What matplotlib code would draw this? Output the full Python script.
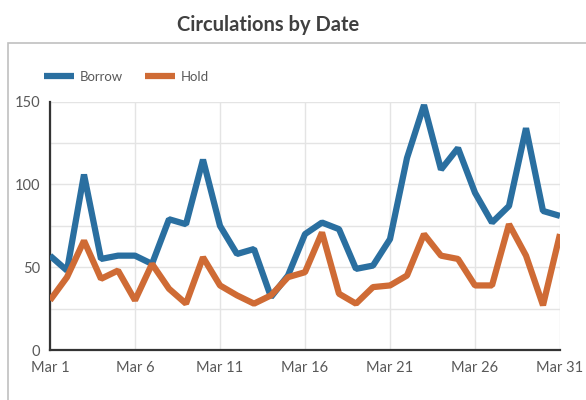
import numpy as np
import matplotlib.pyplot as plt
from matplotlib.patches import Rectangle
from matplotlib.ticker import MultipleLocator

plt.rcParams['font.family'] = ['Lato', 'DejaVu Sans']

days = list(range(1, 32))
borrow = [57, 48, 106, 55, 57, 57, 52, 79, 76, 115, 75, 58, 61, 32, 45, 70,
          77, 73, 49, 51, 67, 116, 148, 109, 122, 95, 77, 87, 134, 84, 81]
hold = [30, 44, 66, 43, 48, 30, 52, 37, 28, 56, 39, 33, 28, 33, 44, 47,
        71, 34, 28, 38, 39, 45, 70, 57, 55, 39, 39, 76, 57, 27, 70]
xtick_days = [1, 6, 11, 16, 21, 26, 31]
xtick_labels = ["Mar %d" % d for d in xtick_days]

blue = "#2a6fa0"
orange = "#cf6b35"
txt = "#595959"

fig = plt.figure(figsize=(5.86, 4.0), dpi=100)
ax = fig.add_axes([50/586, 1 - 350/400, 510/586, (350 - 101.7)/400])

# frame around the plot area
fig.patches.append(Rectangle((8/586, -0.05), 1.0, 1 - 43/400 + 0.05,
                             transform=fig.transFigure, fill=False,
                             edgecolor="#c0c0c0", linewidth=1.2))

ax.plot(days, borrow, color=blue, lw=4.5, label="Borrow",
        solid_joinstyle="bevel", solid_capstyle="butt", zorder=3)
ax.plot(days, hold, color=orange, lw=4.5, label="Hold",
        solid_joinstyle="bevel", solid_capstyle="butt", zorder=3)

ax.set_xlim(1, 31)
ax.set_ylim(0, 150)
ax.set_xticks(xtick_days)
ax.set_xticklabels(xtick_labels)
ax.set_yticks([0, 50, 100, 150])
ax.yaxis.set_minor_locator(MultipleLocator(25))
ax.grid(True, which="both", color="#e4e4e4", lw=1.0, zorder=0)
ax.tick_params(which="both", length=0, colors=txt, labelsize=10.5)
ax.tick_params(axis="x", pad=8)
ax.tick_params(axis="y", pad=7)

for s in ["top", "right"]:
    ax.spines[s].set_visible(False)
for s in ["left", "bottom"]:
    ax.spines[s].set_color("#333333")
    ax.spines[s].set_linewidth(1.6)

fig.text(268/586, 1 - 25/400, "Circulations by Date", ha="center", va="center",
         fontsize=14.5, fontweight="bold", color="#404040")

fig.legend(loc="center left", bbox_to_anchor=(32/586, 1 - 77/400), ncol=2,
           frameon=False, fontsize=9.5, handlelength=2.3, handletextpad=0.4,
           columnspacing=1.7, labelcolor=txt)

fig.savefig("out.png", dpi=100)
